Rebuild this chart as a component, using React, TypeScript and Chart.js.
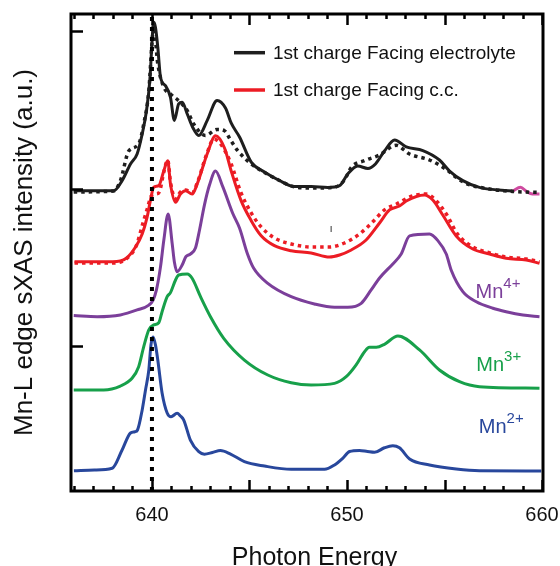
import React, { useEffect, useRef } from "react";
import { Chart, registerables } from "chart.js";

Chart.register(...registerables);

const FONT = "'Liberation Sans', Arial, Helvetica, sans-serif";

// Axis ranges (photon energy in eV, intensity in offset arbitrary units)
const X_MIN = 635.85;
const X_MAX = 660.05;
const Y_MIN = -0.9175;
const Y_MAX = 2.111;
const X_LABEL_TICKS = [640, 650, 660];
const X_MINOR_STEP = 1;
const X_MAJOR_STEP = 5;
const Y_TICKS = [0, 1, 2];
const REF_LINE_ENERGY = 640;

const X_TITLE = "Photon Energy";
const Y_TITLE = "Mn-L edge sXAS intensity (a.u.)";

// 1st charge, facing electrolyte (solid)
const energyElec = [635.99, 638.04, 638.47, 638.9, 639.24, 639.5, 639.72, 639.89, 640.01, 640.08, 640.18, 640.3, 640.44, 640.69, 640.95, 641.15, 641.37, 641.55, 641.81, 642.08, 642.4, 642.83, 643.34, 643.77, 644.06, 644.49, 645.09, 645.77, 646.49, 647.31, 648.16, 649.02, 649.62, 650.04, 650.55, 651.07, 651.46, 651.92, 652.44, 653.04, 653.89, 654.74, 655.26, 655.94, 656.79, 658.5];
const intensityElec = [0.989, 0.989, 1.053, 1.159, 1.222, 1.349, 1.497, 1.688, 1.946, 2.06, 2.027, 1.9, 1.709, 1.656, 1.582, 1.435, 1.54, 1.55, 1.476, 1.394, 1.34, 1.434, 1.562, 1.514, 1.419, 1.33, 1.171, 1.108, 1.057, 1.016, 1.016, 1.01, 1.021, 1.095, 1.146, 1.13, 1.159, 1.241, 1.311, 1.267, 1.244, 1.184, 1.114, 1.053, 1.01, 0.987];

// facing electrolyte, reference fit (dotted)
const energyElecFit = [635.99, 638.04, 638.38, 638.81, 639.32, 639.58, 639.84, 640.01, 640.09, 640.3, 640.61, 640.95, 641.46, 641.81, 642.14, 642.74, 643.34, 643.72, 644.03, 644.4, 645.09, 645.77, 646.49, 647.31, 648.33, 649.36, 649.87, 650.22, 650.9, 651.67, 652.52, 653.21, 654.23, 655.09, 655.6, 656.11, 657.31, 658.5, 659.87];
const intensityElecFit = [0.981, 0.987, 1.051, 1.241, 1.286, 1.413, 1.624, 1.942, 2.029, 1.794, 1.646, 1.603, 1.55, 1.497, 1.413, 1.34, 1.378, 1.37, 1.311, 1.243, 1.159, 1.105, 1.057, 1.013, 1.006, 1.011, 1.057, 1.138, 1.18, 1.216, 1.277, 1.222, 1.184, 1.124, 1.074, 1.035, 1.0, 0.984, 0.978];

// small magenta segment at the end of the electrolyte trace
const energyTail = [658.5, 658.9, 659.2, 659.5, 659.87];
const intensityTail = [0.987, 1.011, 0.985, 0.968, 0.968];

// 1st charge, facing current collector (solid)
const energyCC = [636.03, 637.99, 638.68, 639.15, 639.5, 639.75, 639.92, 640.09, 640.35, 640.61, 640.81, 640.95, 641.21, 641.46, 641.72, 642.06, 642.32, 642.83, 643.26, 643.72, 644.06, 644.57, 645.09, 645.6, 646.28, 647.14, 648.16, 649.1, 649.62, 650.22, 650.98, 651.67, 652.18, 652.69, 653.04, 653.97, 654.4, 654.91, 655.6, 656.45, 657.31, 658.16, 659.19, 659.87];
const intensityCC = [0.538, 0.538, 0.56, 0.63, 0.714, 0.82, 0.926, 1.011, 1.021, 1.116, 1.18, 1.032, 0.916, 0.968, 0.989, 0.968, 1.032, 1.222, 1.338, 1.26, 1.116, 0.926, 0.799, 0.703, 0.64, 0.608, 0.594, 0.568, 0.581, 0.613, 0.676, 0.784, 0.867, 0.892, 0.924, 0.962, 0.93, 0.835, 0.702, 0.619, 0.587, 0.56, 0.549, 0.528];

// facing c.c., reference fit (dotted)
const energyCCFit = [636.03, 637.97, 638.74, 639.21, 639.51, 639.77, 639.97, 640.22, 640.38, 640.61, 640.81, 640.95, 641.21, 641.46, 641.72, 642.06, 642.32, 642.83, 643.17, 643.56, 644.06, 644.57, 645.09, 645.6, 646.28, 647.14, 648.16, 649.1, 649.87, 650.64, 651.31, 651.92, 652.54, 653.36, 654.06, 654.54, 655.09, 655.67, 656.45, 657.31, 658.16, 659.19, 659.87];
const intensityCCFit = [0.53, 0.53, 0.562, 0.644, 0.771, 0.879, 0.956, 0.968, 0.981, 1.108, 1.184, 1.044, 0.937, 0.981, 0.994, 0.975, 1.038, 1.229, 1.317, 1.279, 1.159, 0.975, 0.848, 0.759, 0.689, 0.651, 0.632, 0.632, 0.657, 0.714, 0.79, 0.867, 0.905, 0.956, 0.968, 0.93, 0.841, 0.714, 0.632, 0.594, 0.568, 0.556, 0.537];

// Mn4+ reference
const energyMn4 = [635.99, 637.19, 638.38, 639.24, 639.84, 640.06, 640.23, 640.44, 640.61, 640.83, 641.04, 641.15, 641.29, 641.55, 641.74, 641.97, 642.23, 642.44, 642.69, 642.95, 643.26, 643.63, 644.14, 644.49, 644.9, 645.21, 645.94, 647.14, 648.33, 649.36, 650.04, 650.73, 651.24, 651.67, 652.35, 652.78, 653.21, 654.23, 654.66, 655.09, 655.34, 655.94, 656.63, 657.48, 658.16, 659.02, 659.87];
const intensityMn4 = [0.196, 0.189, 0.2, 0.232, 0.263, 0.295, 0.359, 0.507, 0.676, 0.841, 0.651, 0.537, 0.475, 0.517, 0.57, 0.587, 0.625, 0.74, 0.898, 1.025, 1.114, 1.015, 0.846, 0.752, 0.587, 0.498, 0.401, 0.316, 0.27, 0.249, 0.249, 0.274, 0.359, 0.435, 0.524, 0.587, 0.702, 0.714, 0.672, 0.587, 0.486, 0.348, 0.284, 0.243, 0.221, 0.2, 0.189];

// Mn3+ reference
const energyMn3 = [635.99, 637.53, 638.38, 638.98, 639.32, 639.58, 639.84, 640.09, 640.35, 640.52, 640.78, 640.95, 641.21, 641.37, 641.81, 642.06, 642.49, 643.0, 643.68, 644.74, 645.94, 647.14, 648.16, 649.36, 649.96, 650.47, 650.9, 651.15, 651.5, 651.92, 652.61, 653.72, 654.74, 655.77, 656.79, 659.87];
const intensityMn3 = [-0.276, -0.276, -0.251, -0.202, -0.128, -0.001, 0.105, 0.137, 0.151, 0.221, 0.316, 0.342, 0.422, 0.454, 0.46, 0.433, 0.316, 0.189, 0.052, -0.086, -0.181, -0.23, -0.244, -0.234, -0.192, -0.117, -0.033, -0.005, -0.005, 0.014, 0.067, -0.022, -0.149, -0.223, -0.255, -0.265];

// Mn2+ reference
const energyMn2 = [636.0, 637.05, 637.96, 638.47, 638.9, 639.13, 639.26, 639.5, 639.67, 639.84, 639.95, 640.06, 640.18, 640.3, 640.52, 640.78, 640.98, 641.29, 641.46, 641.63, 641.97, 642.4, 642.69, 643.1, 643.51, 644.03, 644.74, 645.77, 647.14, 648.85, 649.36, 649.78, 650.13, 650.64, 651.05, 651.41, 651.92, 652.35, 652.69, 653.21, 654.23, 655.6, 656.79, 659.96];
const intensityMn2 = [-0.789, -0.784, -0.773, -0.657, -0.549, -0.541, -0.53, -0.403, -0.276, -0.149, 0.01, 0.06, 0.01, -0.086, -0.295, -0.422, -0.446, -0.424, -0.441, -0.467, -0.594, -0.668, -0.684, -0.673, -0.66, -0.683, -0.731, -0.759, -0.78, -0.78, -0.752, -0.71, -0.667, -0.66, -0.667, -0.672, -0.643, -0.63, -0.643, -0.714, -0.752, -0.778, -0.789, -0.79];

// stray mark in the figure
const markEnergy = [649.19];
const markIntensity = [0.746];

// Legend
const LEGEND_LABELS = ["1st charge Facing electrolyte", "1st charge Facing c.c."];
const LEGEND_COLORS = ["#1e1e1e", "#ec1c24"];

// Oxidation state labels
const STATE_TEXT = ["Mn", "Mn", "Mn"];
const STATE_SUP = ["4+", "3+", "2+"];
const STATE_COLORS = ["#7b3f9a", "#17a04a", "#28479c"];
const STATE_X = [656.59, 656.63, 656.76];
const STATE_Y = [0.306, -0.154, -0.547];

const COLORS = {
  black: "#1e1e1e",
  red: "#ec1c24",
  purple: "#7b3f9a",
  green: "#17a04a",
  blue: "#28479c",
  pink: "#cf4aa0",
};

const pts = (xs: number[], ys: number[]) => xs.map((x, i) => ({ x, y: ys[i] }));

const line = (label: string, data: any[], color: string, dashed = false, width = 3) => ({
  label,
  data,
  borderColor: color,
  backgroundColor: color,
  borderWidth: dashed ? 3.5 : width,
  borderDash: dashed ? [3.5, 4] : [],
  pointRadius: 0,
  fill: false,
  cubicInterpolationMode: "monotone" as const,
  borderJoinStyle: "round" as const,
  borderCapStyle: "butt" as const,
});

const decorPlugin = {
  id: "decor",
  afterDatasetsDraw(chart: any) {
    const { ctx, chartArea: a, scales } = chart;
    const xs = scales.x;
    const ys = scales.y;
    ctx.save();
    ctx.strokeStyle = "#000";
    // frame
    ctx.lineWidth = 3;
    ctx.strokeRect(a.left, a.top, a.right - a.left, a.bottom - a.top);
    // x ticks (inward, top and bottom)
    ctx.lineWidth = 2.5;
    const start = Math.ceil(X_MIN / X_MINOR_STEP) * X_MINOR_STEP;
    for (let v = start; v <= X_MAX + 1e-9; v += X_MINOR_STEP) {
      const px = Math.round(xs.getPixelForValue(v)) + 0.5;
      const major = Math.abs(v / X_MAJOR_STEP - Math.round(v / X_MAJOR_STEP)) < 1e-6;
      const len = major ? 11 : 5;
      ctx.beginPath();
      ctx.moveTo(px, a.bottom);
      ctx.lineTo(px, a.bottom - len);
      ctx.moveTo(px, a.top);
      ctx.lineTo(px, a.top + len);
      ctx.stroke();
    }
    // y ticks (inward, left only)
    Y_TICKS.forEach((v) => {
      const py = Math.round(ys.getPixelForValue(v)) + 0.5;
      ctx.beginPath();
      ctx.moveTo(a.left, py);
      ctx.lineTo(a.left + 12, py);
      ctx.stroke();
    });
    ctx.restore();
  },
  afterDraw(chart: any) {
    const { ctx, chartArea: a, scales } = chart;
    const xs = scales.x;
    const ys = scales.y;
    ctx.save();
    // legend
    ctx.font = `19px ${FONT}`;
    ctx.textBaseline = "alphabetic";
    ctx.textAlign = "left";
    LEGEND_LABELS.forEach((lab, i) => {
      const ly = a.top + 38.7 + i * 37.3;
      ctx.strokeStyle = LEGEND_COLORS[i];
      ctx.lineWidth = 3.5;
      ctx.beginPath();
      ctx.moveTo(a.left + 163, ly);
      ctx.lineTo(a.left + 194, ly);
      ctx.stroke();
      ctx.fillStyle = "#111";
      ctx.fillText(lab, a.left + 202, ly + 5.8);
    });
    // oxidation state labels
    STATE_TEXT.forEach((t, i) => {
      const px = xs.getPixelForValue(STATE_X[i]);
      const py = ys.getPixelForValue(STATE_Y[i]);
      ctx.fillStyle = STATE_COLORS[i];
      ctx.font = `20px ${FONT}`;
      ctx.fillText(t, px, py);
      const w = ctx.measureText(t).width;
      ctx.font = `15px ${FONT}`;
      ctx.fillText(STATE_SUP[i], px + w, py - 10);
    });
    // x axis title
    ctx.fillStyle = "#111";
    ctx.font = `25px ${FONT}`;
    ctx.textAlign = "center";
    ctx.fillText(X_TITLE, (a.left + a.right) / 2 + 7.5, a.bottom + 74);
    ctx.restore();
  },
};

export default function App() {
  const ref = useRef<HTMLCanvasElement>(null);
  useEffect(() => {
    document.body.style.margin = "0";
    const canvas = ref.current;
    if (!canvas) return;
    const chart = new Chart(canvas, {
      type: "line",
      data: {
        datasets: [
          {
            label: "E = 640 eV",
            data: [
              { x: REF_LINE_ENERGY, y: Y_MIN },
              { x: REF_LINE_ENERGY, y: Y_MAX },
            ],
            borderColor: "#000",
            borderWidth: 4,
            borderDash: [4, 6],
            pointRadius: 0,
            borderCapStyle: "butt",
          } as any,
          line(LEGEND_LABELS[0] + " (fit)", pts(energyElecFit, intensityElecFit), COLORS.black, true),
          line("tail", pts(energyTail, intensityTail), COLORS.pink),
          line(LEGEND_LABELS[0], pts(energyElec, intensityElec), COLORS.black),
          line(LEGEND_LABELS[1] + " (fit)", pts(energyCCFit, intensityCCFit), COLORS.red, true),
          line(LEGEND_LABELS[1], pts(energyCC, intensityCC), COLORS.red),
          line("Mn4+", pts(energyMn4, intensityMn4), COLORS.purple),
          line("Mn3+", pts(energyMn3, intensityMn3), COLORS.green),
          line("Mn2+", pts(energyMn2, intensityMn2), COLORS.blue),
          {
            label: "mark",
            data: pts(markEnergy, markIntensity),
            showLine: false,
            pointStyle: "line",
            rotation: 90,
            pointRadius: 3,
            borderColor: "#777",
            borderWidth: 1.5,
          } as any,
        ],
      },
      options: {
        animation: false,
        responsive: false,
        events: [],
        layout: { padding: { top: 14, right: 17, left: 0, bottom: 0 } },
        plugins: { legend: { display: false }, tooltip: { enabled: false }, title: { display: false } },
        scales: {
          x: {
            type: "linear",
            min: X_MIN,
            max: X_MAX,
            grid: { display: false, drawTicks: false },
            border: { display: false },
            afterBuildTicks: (s: any) => {
              s.ticks = X_LABEL_TICKS.map((v) => ({ value: v }));
            },
            ticks: {
              color: "#111",
              font: { family: FONT, size: 20 },
              padding: 12,
              maxRotation: 0,
              autoSkip: false,
              callback: (v: any) => String(v),
            },
            afterFit: (s: any) => {
              s.height = 75;
              s.paddingLeft = 0;
              s.paddingRight = 0;
            },
          },
          y: {
            type: "linear",
            min: Y_MIN,
            max: Y_MAX,
            grid: { display: false, drawTicks: false },
            border: { display: false },
            ticks: { display: false },
            title: {
              display: true,
              text: Y_TITLE,
              color: "#111",
              font: { family: FONT, size: 26 },
              padding: { top: 9, bottom: 0 },
            },
            afterFit: (s: any) => {
              s.width = 71;
              s.paddingTop = 0;
              s.paddingBottom = 0;
            },
          },
        },
      } as any,
      plugins: [decorPlugin],
    });
    return () => chart.destroy();
  }, []);
  return (
    <div style={{ width: 560, height: 566 }}>
      <canvas ref={ref} width={560} height={566} style={{ display: "block" }} />
    </div>
  );
}
